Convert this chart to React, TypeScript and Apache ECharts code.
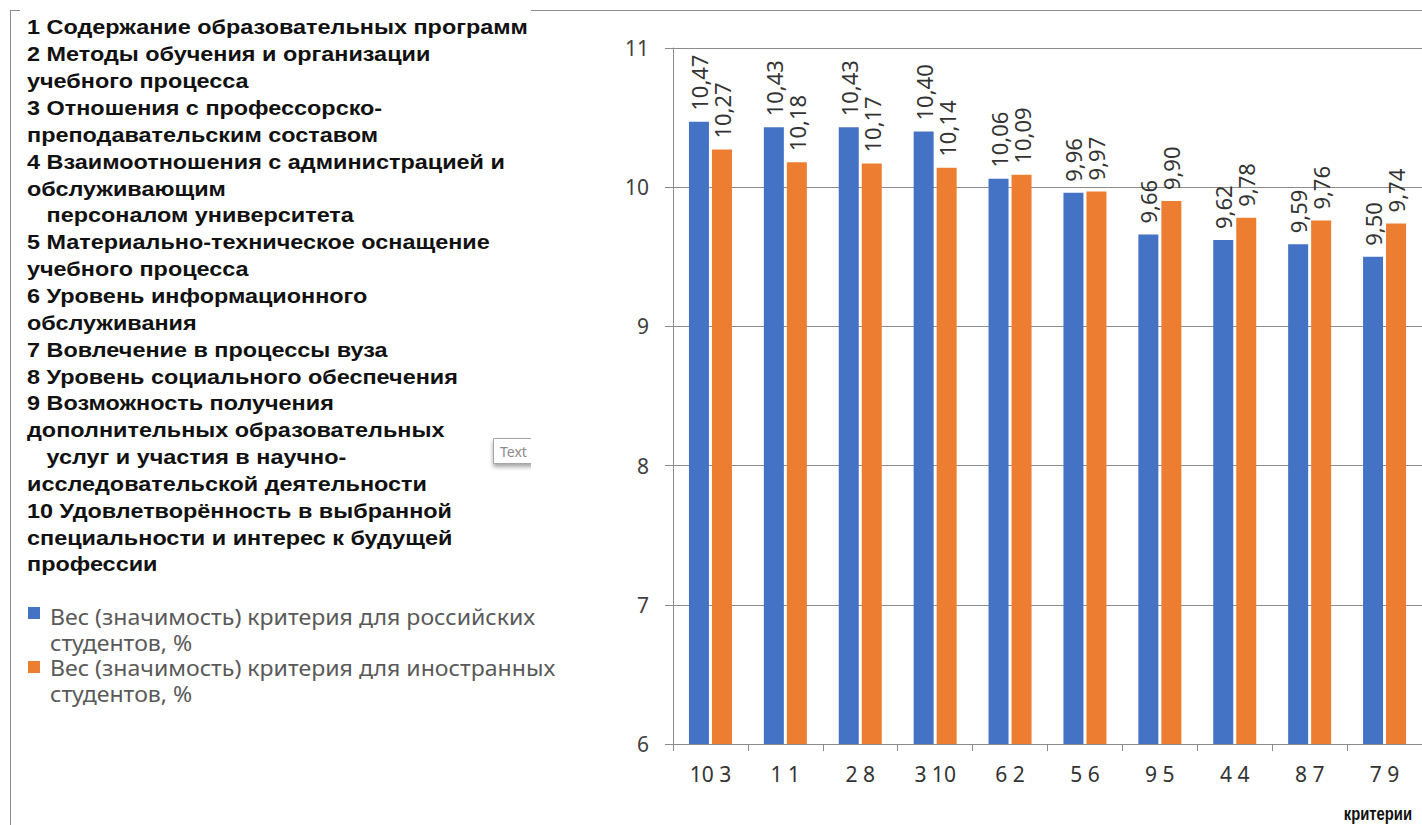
import React, { useEffect, useRef } from "react";
import * as echarts from "echarts";

const categories = ["10 3", "1 1", "2 8", "3 10", "6 2", "5 6", "9 5", "4 4", "8 7", "7 9"];
const russianValues = [10.47, 10.43, 10.43, 10.4, 10.06, 9.96, 9.66, 9.62, 9.59, 9.5];
const foreignValues = [10.27, 10.18, 10.17, 10.14, 10.09, 9.97, 9.9, 9.78, 9.76, 9.74];
const seriesNames = [
  "Вес (значимость) критерия для российских\nстудентов, %",
  "Вес (значимость) критерия для иностранных\nстудентов, %",
];
const criteriaLines = [
  "1 Содержание образовательных программ",
  "2 Методы обучения и организации",
  "учебного процесса",
  "3 Отношения с профессорско-",
  "преподавательским составом",
  "4 Взаимоотношения с администрацией и",
  "обслуживающим",
  "   персоналом университета",
  "5 Материально-техническое оснащение",
  "учебного процесса",
  "6 Уровень информационного",
  "обслуживания",
  "7 Вовлечение в процессы вуза",
  "8 Уровень социального обеспечения",
  "9 Возможность получения",
  "дополнительных образовательных",
  "   услуг и участия в научно-",
  "исследовательской деятельности",
  "10 Удовлетворённость в выбранной",
  "специальности и интерес к будущей",
  "профессии",
];
const xAxisTitle = "критерии";
const colors = ["#4472C4", "#ED7D31"];

const fmt = (v: number) => v.toFixed(2).replace(".", ",");

export default function App() {
  const ref = useRef<HTMLDivElement>(null);
  useEffect(() => {
    if (!ref.current) return;
    const chart = echarts.init(ref.current, undefined, { renderer: "svg" });
    const axisColor = "#8c8c8c";
    const numFont = "Noto Sans";
    const option: any = {
      animation: false,
      backgroundColor: "#ffffff",
      grid: { left: 673, right: -7, top: 48, bottom: 81, containLabel: false },
      xAxis: {
        type: "category",
        data: categories,
        axisLine: { show: true, lineStyle: { color: axisColor, width: 1 } },
        axisTick: { show: true, length: 7, lineStyle: { color: axisColor } },
        axisLabel: { color: "#333333", fontSize: 21, fontFamily: numFont, margin: 19 },
      },
      yAxis: {
        type: "value",
        min: 6,
        max: 11,
        interval: 1,
        axisLine: { show: true, lineStyle: { color: axisColor, width: 1 } },
        axisTick: { show: true, length: 8, lineStyle: { color: axisColor } },
        splitLine: { show: true, lineStyle: { color: axisColor, width: 1 } },
        axisLabel: { color: "#404040", fontSize: 21, fontFamily: numFont, margin: 24 },
      },
      series: [russianValues, foreignValues].map((vals, i) => ({
        type: "bar",
        name: seriesNames[i],
        data: vals,
        barWidth: 20,
        barGap: "15%",
        itemStyle: { color: colors[i] },
        label: {
          show: true,
          position: "top",
          rotate: 90,
          align: "left",
          verticalAlign: "middle",
          distance: 11,
          fontSize: 22,
          fontFamily: numFont,
          color: "#333333",
          formatter: (p: any) => fmt(p.value),
        },
      })),
      graphic: [
        { type: "line", shape: { x1: 10, y1: 10.5, x2: 20, y2: 10.5 }, style: { stroke: axisColor, lineWidth: 1 } },
        { type: "line", shape: { x1: 531, y1: 10.5, x2: 1422, y2: 10.5 }, style: { stroke: axisColor, lineWidth: 1 } },
        { type: "line", shape: { x1: 10.5, y1: 10, x2: 10.5, y2: 825 }, style: { stroke: axisColor, lineWidth: 1 } },
        {
          type: "text",
          x: 27,
          y: 14,
          scaleX: 1.115,
          style: {
            text: criteriaLines.join("\n"),
            fontSize: 21,
            fontWeight: "bold",
            fontFamily: "Liberation Sans",
            lineHeight: 26.85,
            fill: "#111111",
          },
        },
        {
          type: "rect",
          shape: { x: 493.5, y: 438.5, width: 44, height: 25 },
          style: {
            fill: "#ffffff",
            stroke: "#a6a6a6",
            lineWidth: 1,
            shadowBlur: 4,
            shadowOffsetY: 3,
            shadowColor: "rgba(0,0,0,0.35)",
          },
        },
        { type: "rect", shape: { x: 531, y: 436, width: 12, height: 36 }, style: { fill: "#ffffff" } },
        {
          type: "text",
          x: 500,
          y: 451,
          style: { text: "Text", fontSize: 14, fontFamily: "Noto Sans", fill: "#8a8a8a", verticalAlign: "middle" },
        },
        { type: "rect", shape: { x: 28, y: 607, width: 12, height: 12 }, style: { fill: colors[0] } },
        {
          type: "text",
          x: 50,
          y: 603,
          scaleX: 1.1,
          style: { text: seriesNames[0], fontSize: 21, fontFamily: "Noto Sans", fill: "#595959", lineHeight: 26 },
        },
        { type: "rect", shape: { x: 28, y: 661, width: 12, height: 12 }, style: { fill: colors[1] } },
        {
          type: "text",
          x: 50,
          y: 654,
          scaleX: 1.1,
          style: { text: seriesNames[1], fontSize: 21, fontFamily: "Noto Sans", fill: "#595959", lineHeight: 26 },
        },
        {
          type: "text",
          x: 1412,
          y: 814,
          scaleX: 0.78,
          style: {
            text: xAxisTitle,
            fontSize: 19,
            fontWeight: "bold",
            fontFamily: "Liberation Sans",
            fill: "#111111",
            align: "right",
            verticalAlign: "middle",
          },
        },
      ],
    };
    chart.setOption(option);
    return () => chart.dispose();
  }, []);
  return (
    <div
      ref={ref}
      style={{ position: "absolute", left: 0, top: 0, width: 1422, height: 825 }}
    />
  );
}
